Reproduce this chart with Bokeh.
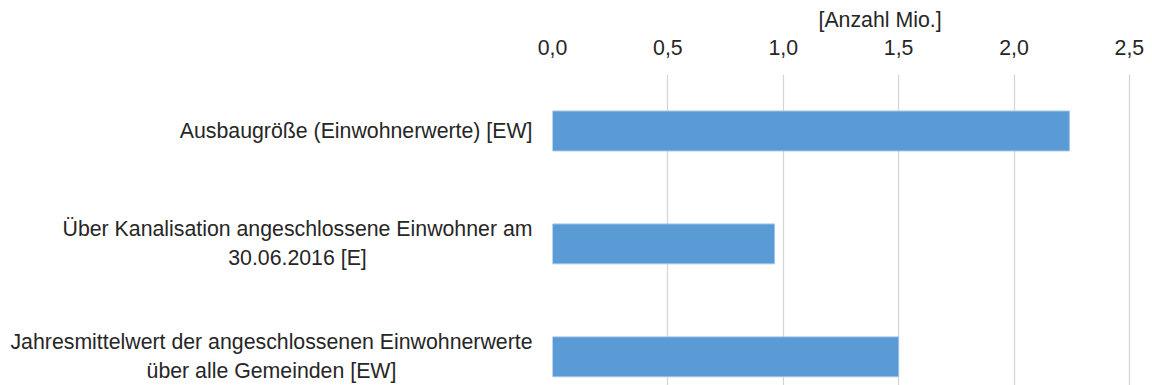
from bokeh.plotting import figure
from bokeh.models import Range1d, FixedTicker, LinearAxis, CustomJSTickFormatter, Title
from bokeh.layouts import row
from bokeh.core.properties import value
from bokeh.embed import file_html
from bokeh.resources import INLINE

categories = [
    "Ausbaugröße (Einwohnerwerte) [EW]",
    "Über Kanalisation angeschlossene Einwohner am\n30.06.2016 [E]",
    "Jahresmittelwert der angeschlossenen Einwohnerwerte\nüber alle Gemeinden [EW]",
]
values = [2.24, 0.962, 1.50]
x_ticks = [0.0, 0.5, 1.0, 1.5, 2.0, 2.5]
axis_title = "[Anzahl Mio.]"

FONT = "Liberation Sans"
FS = "21.3px"
TXT = "#262626"

positions = list(range(len(categories)))
y_range = Range1d(2.254, -0.5)

# category label panel (left)
lp = figure(width=532, height=385, output_backend="svg", toolbar_location=None,
            x_range=Range1d(-1, 0), y_range=y_range,
            x_axis_location=None, y_axis_location=None,
            min_border_left=0, min_border_right=0, min_border_bottom=0,
            min_border_top=73, outline_line_color=None)
lp.xgrid.grid_line_color = None
lp.ygrid.grid_line_color = None
lp.text(x=[0] * len(categories), y=positions, text=categories,
        text_align="center", anchor="center_right", text_baseline="middle",
        text_font=value(FONT), text_font_size=value(FS), text_color=TXT,
        text_line_height=1.2)

# bar chart
p = figure(width=620, height=385, output_backend="svg", toolbar_location=None,
           x_range=Range1d(0, 2.6), y_range=y_range,
           x_axis_location=None, y_axis_location=None,
           min_border_left=20, min_border_right=0, min_border_bottom=0,
           min_border_top=73, outline_line_color=None)

p.hbar(y=positions, right=values, left=0, height=0.353,
       fill_color="#5B9BD5", line_color="#9DC3E6", line_width=1)

xa = LinearAxis(ticker=FixedTicker(ticks=x_ticks),
                formatter=CustomJSTickFormatter(code="return tick.toFixed(1).replace('.', ',');"),
                axis_line_color=None, major_tick_line_color=None, minor_tick_line_color=None,
                major_label_text_font=FONT, major_label_text_font_size=FS,
                major_label_text_color=TXT, major_label_standoff=14)
p.add_layout(xa, "above")

p.title = Title(text=axis_title, align="left", offset=266, text_font=FONT,
                text_font_size=FS, text_font_style="normal", text_color=TXT)

p.xgrid.ticker = FixedTicker(ticks=x_ticks)
p.xgrid.grid_line_color = "#D4D4D4"
p.xgrid.grid_line_width = 1.2
p.ygrid.grid_line_color = None

layout = row(lp, p, spacing=0)
open("out.html", "w").write(file_html(layout, INLINE))
